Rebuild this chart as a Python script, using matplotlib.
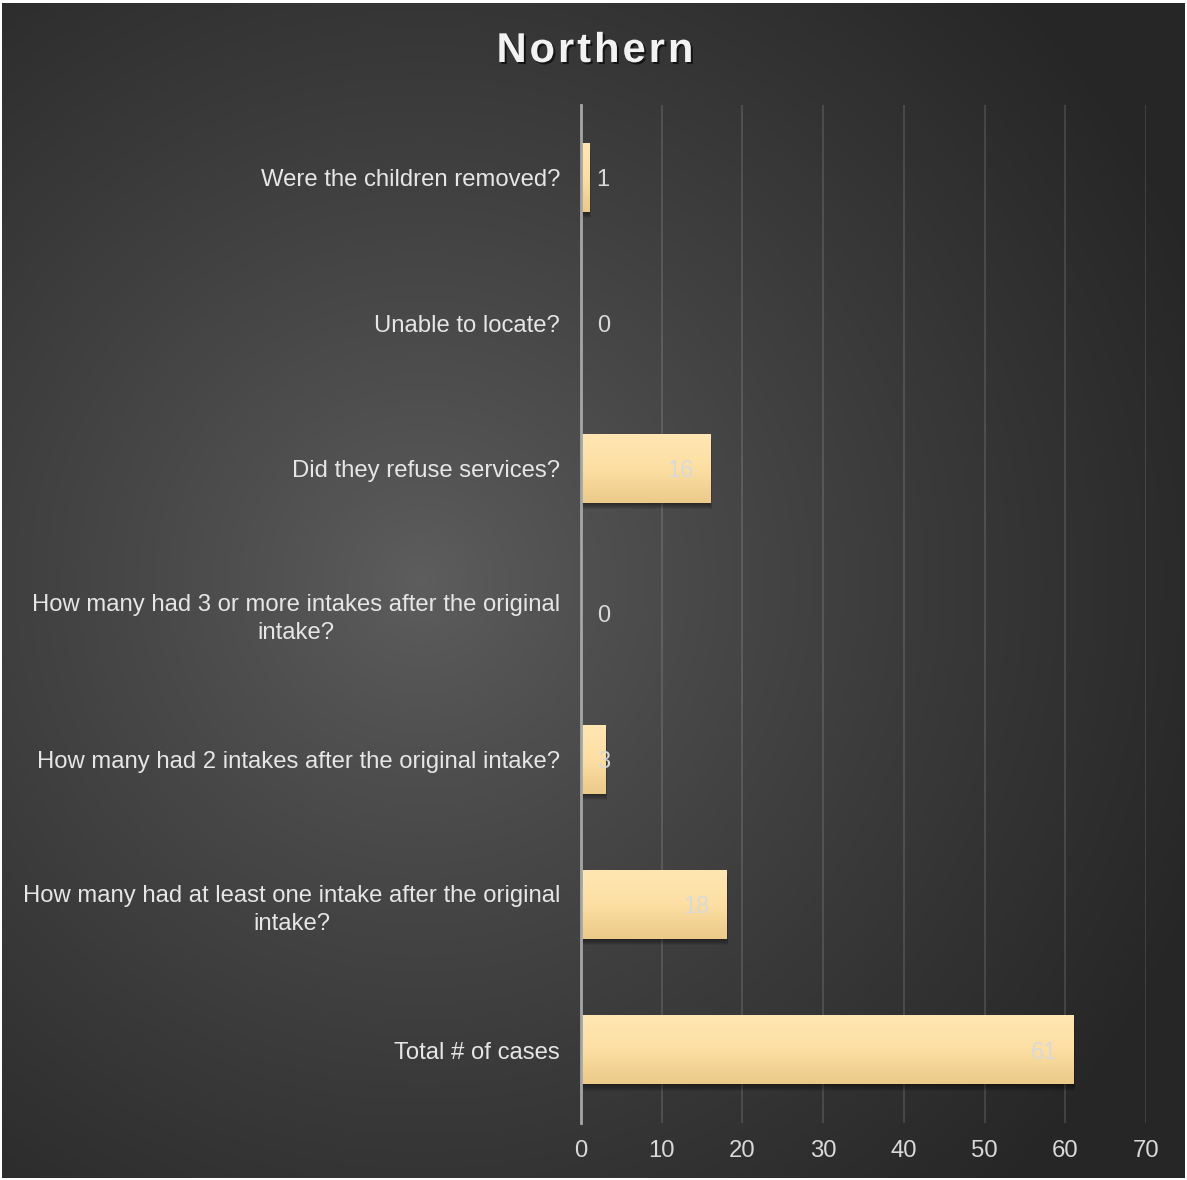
import numpy as np
import matplotlib
matplotlib.use("Agg")
import matplotlib.pyplot as plt
import matplotlib.patheffects as pe
from matplotlib.colors import LinearSegmentedColormap

categories = [
    "Were the children removed?",
    "Unable to locate?",
    "Did they refuse services?",
    "How many had 3 or more intakes after the original\nintake?",
    "How many had 2 intakes after the original intake?",
    "How many had at least one intake after the original\nintake?",
    "Total # of cases",
]
values = [1, 0, 16, 0, 3, 18, 61]
title = "Northern"
xticks = [0, 10, 20, 30, 40, 50, 60, 70]

plt.rcParams['font.family'] = ['Liberation Sans', 'DejaVu Sans']

W, H = 1187, 1180
fig = plt.figure(figsize=(W / 100, H / 100), dpi=100, facecolor='white')

# background radial gradient
bg = fig.add_axes([2 / W, 2 / H, (W - 4) / W, (H - 5) / H], zorder=0)
yy, xx = np.mgrid[0:H:2, 0:W:2]
cx, cy = 420, 580
r = np.sqrt((xx - cx) ** 2 + (yy - cy) ** 2) / 850.0
r = np.clip(r, 0, 1)
c0, c1 = 0x5e / 255, 0x26 / 255
val = c0 + (c1 - c0) * r ** 0.85
img = np.dstack([val, val, val])
bg.imshow(img, aspect='auto', extent=[0, W, H, 0])
bg.axis('off')

ax = fig.add_axes([581 / W, 1 - 1123 / H, (1146 - 581) / W, (1123 - 105) / H], zorder=1)
ax.patch.set_alpha(0)

n = len(categories)
ypos = np.arange(n)
bh = 0.47

# gradient bars with soft shadow
cmap = LinearSegmentedColormap.from_list("bar", ["#FFE6B2", "#FDDFA3", "#EBCA8A"])
grad = np.linspace(0, 1, 64).reshape(-1, 1)
for y, v in zip(ypos, values):
    if v <= 0:
        continue
    for k in range(1, 7):
        ax.add_patch(plt.Rectangle((0.04 * k, y - bh / 2 + 0.007 * k), v, bh,
                                   facecolor='black', alpha=0.08, zorder=2,
                                   edgecolor='none'))
    ax.imshow(grad, cmap=cmap, aspect='auto', extent=[0, v, y + bh / 2, y - bh / 2],
              zorder=3, interpolation='bicubic')

ax.set_xlim(0, 70)
ax.set_ylim(n - 0.5, -0.5)

# value labels
for y, v in zip(ypos, values):
    if v >= 10:
        ax.annotate(str(v), (v, y), xytext=(-12, 0), textcoords='offset points',
                    ha='right', va='center_baseline', fontsize=17, color='#d9d9d9', zorder=5)
    else:
        ax.annotate(str(v), (0, y), xytext=(16, 0), textcoords='offset points',
                    ha='center', va='center_baseline', fontsize=17, color='#d9d9d9', zorder=5)

ax.set_yticks(ypos)
ax.set_yticklabels(categories, ha='right', multialignment='center', linespacing=1.35)
ax.set_xticks(xticks)
ax.tick_params(axis='y', length=0, pad=15, labelsize=17.2, labelcolor='#e6e6e6')
ax.tick_params(axis='x', length=0, pad=12, labelsize=17.2, labelcolor='#d9d9d9')

ax.grid(axis='x', color='#ffffff', alpha=0.13, linewidth=1.4, zorder=0)
ax.set_axisbelow(True)
for s in ['top', 'right', 'bottom']:
    ax.spines[s].set_visible(False)
ax.spines['left'].set_color('#a6a6a6')
ax.spines['left'].set_linewidth(2)
ax.spines['left'].set_zorder(4)

# title with letter spacing
fig.canvas.draw()
renderer = fig.canvas.get_renderer()
tfs = 30
track = 3.0  # px between letters
shadow = [pe.withSimplePatchShadow(offset=(1.5, -1.5), shadow_rgbFace='black', alpha=0.6)]
widths = []
for ch in title:
    t = fig.text(0, 0, ch, fontsize=tfs, fontweight='bold')
    widths.append(t.get_window_extent(renderer).width)
    t.remove()
total = sum(widths) + track * (len(title) - 1)
x = 595 - total / 2
for ch, w in zip(title, widths):
    fig.text(x / W, 1 - 51 / H, ch, ha='left', va='center', fontsize=tfs,
             fontweight='bold', color='#f2f2f2', zorder=10, path_effects=shadow)
    x += w + track

fig.savefig("out.png", dpi=100, facecolor='white')
